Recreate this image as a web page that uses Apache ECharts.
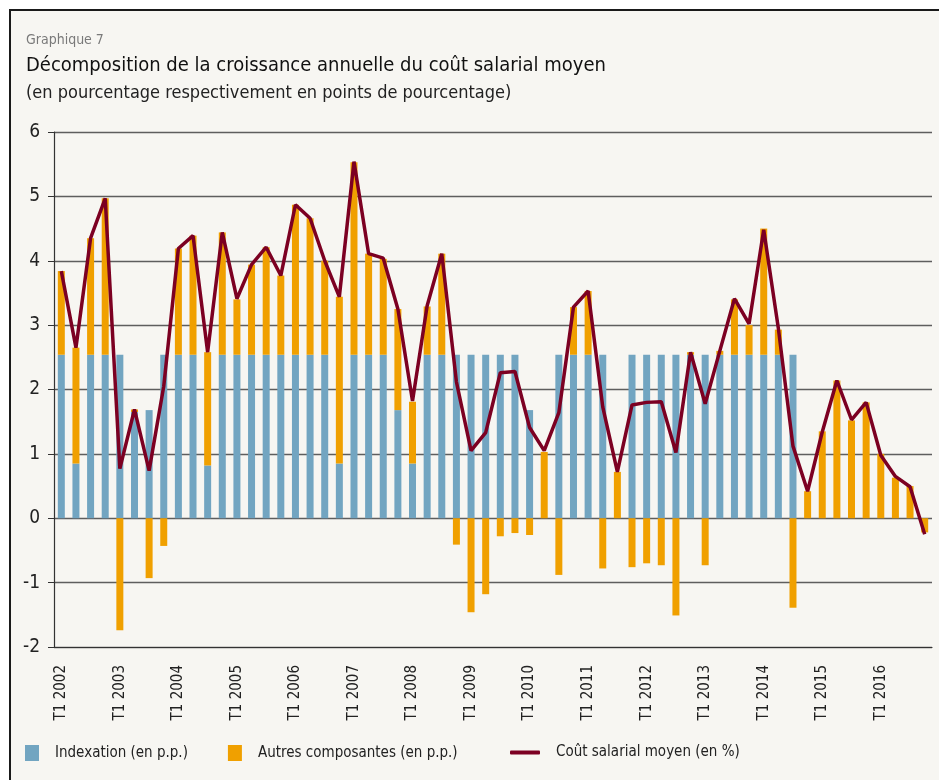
<!DOCTYPE html>
<html>
    <head>
        <meta charset="utf-8">
        <script src="https://cdn.jsdelivr.net/npm/echarts@6/dist/echarts.min.js"></script>
    </head>
    <body>
        <style>
            html, body {
                width: 100%;
                height: 100%;
                margin: 0;
                background: #ffffff;
                overflow: hidden;
            }
            #frame {
                position: absolute;
                left: 9px;
                top: 9px;
                width: 960px;
                height: 800px;
                border: 2px solid #1a1a1a;
                background: #f7f6f2;
            }
            #main {
                position: absolute;
                left: 0;
                top: 0;
                width: 939px;
                height: 780px;
            }
        </style>
        <div id="frame"></div>
        <div id="main"></div>
        <script>
            var years = [2002, 2003, 2004, 2005, 2006, 2007, 2008, 2009,
                2010, 2011, 2012, 2013, 2014, 2015, 2016];

            // indexation (en p.p.)
            var indexation = [
                2.54, 0.85, 2.54, 2.54,
                2.54, 1.65, 1.68, 2.54,
                2.54, 2.54, 0.82, 2.54,
                2.54, 2.54, 2.54, 2.54,
                2.54, 2.54, 2.54, 0.85,
                2.54, 2.54, 2.54, 1.68,
                0.85, 2.54, 2.54, 2.54,
                2.54, 2.54, 2.54, 2.54,
                1.68, 0, 2.54, 2.54,
                2.54, 2.54, 0, 2.54,
                2.54, 2.54, 2.54, 2.54,
                2.54, 2.54, 2.54, 2.54,
                2.54, 2.54, 2.54, 0,
                0, 0, 0, 0,
                0, 0, 0, 0
            ];

            // autres composantes (en p.p.)
            var autres = [
                1.30, 1.80, 1.81, 2.43,
                -1.74, 0.04, -0.93, -0.43,
                1.65, 1.85, 1.76, 1.90,
                0.86, 1.40, 1.67, 1.23,
                2.33, 2.12, 1.46, 2.59,
                2.99, 1.57, 1.49, 1.57,
                0.96, 0.75, 1.57, -0.41,
                -1.46, -1.18, -0.28, -0.23,
                -0.26, 1.03, -0.88, 0.74,
                0.99, -0.78, 0.72, -0.76,
                -0.70, -0.73, -1.51, 0.04,
                -0.73, 0.06, 0.86, 0.46,
                1.96, 0.39, -1.39, 0.42,
                1.35, 2.14, 1.52, 1.80,
                1.00, 0.63, 0.50, -0.22
            ];

            // coût salarial moyen (en %)
            var coutSalarial = [
                3.84, 2.65, 4.35, 4.97,
                0.77, 1.69, 0.74, 2.05,
                4.19, 4.39, 2.58, 4.44,
                3.41, 3.94, 4.21, 3.77,
                4.87, 4.66, 4.00, 3.44,
                5.54, 4.11, 4.04, 3.25,
                1.82, 3.30, 4.11, 2.12,
                1.05, 1.33, 2.26, 2.28,
                1.41, 1.05, 1.64, 3.28,
                3.53, 1.73, 0.72, 1.76,
                1.80, 1.81, 1.02, 2.58,
                1.78, 2.60, 3.41, 3.02,
                4.48, 2.95, 1.12, 0.42,
                1.34, 2.14, 1.53, 1.80,
                0.98, 0.65, 0.49, -0.25
            ];

            var quarters = [];
            years.forEach(function (y) {
                for (var q = 1; q <= 4; q++) {
                    quarters.push('T' + q + ' ' + y);
                }
            });

            var font = '"Liberation Sans Narrow", "DejaVu Sans Condensed", Roboto, sans-serif';

            var chart = echarts.init(document.getElementById('main'));

            chart.setOption({
                backgroundColor: 'transparent',
                textStyle: {
                    fontFamily: font
                },
                title: [
                    {
                        text: 'Graphique 7',
                        left: 21,
                        top: 28,
                        textStyle: {fontSize: 14, fontWeight: 'normal', color: '#7a7a7a', fontFamily: font}
                    },
                    {
                        text: 'Décomposition de la croissance annuelle du coût salarial moyen',
                        left: 21,
                        top: 51,
                        textStyle: {fontSize: 20, fontWeight: 'normal', color: '#111', fontFamily: font}
                    },
                    {
                        text: '(en pourcentage respectivement en points de pourcentage)',
                        left: 21,
                        top: 79,
                        textStyle: {fontSize: 18, fontWeight: 'normal', color: '#222', fontFamily: font}
                    }
                ],
                legend: [
                    {
                        left: 20,
                        top: 740,
                        itemWidth: 14,
                        itemHeight: 16,
                        itemGap: 40,
                        icon: 'rect',
                        textStyle: {fontSize: 15, color: '#222', padding: [0, 0, 0, 11]},
                        data: ['Indexation (en p.p.)', 'Autres composantes (en p.p.)']
                    },
                    {
                        left: 505,
                        top: 740,
                        itemWidth: 30,
                        itemHeight: 4,
                        icon: 'roundRect',
                        textStyle: {fontSize: 15, color: '#222', padding: [0, 0, 0, 11]},
                        data: ['Coût salarial moyen (en %)']
                    }
                ],
                grid: {
                    left: 54,
                    right: 7,
                    top: 132,
                    bottom: 133
                },
                xAxis: {
                    type: 'category',
                    data: quarters,
                    axisLine: {
                        onZero: false,
                        lineStyle: {color: '#333', width: 1.2}
                    },
                    axisTick: {
                        interval: 0,
                        length: 5,
                        lineStyle: {color: '#333'}
                    },
                    axisLabel: {
                        interval: function (i) {
                            return i % 4 === 0;
                        },
                        rotate: 90,
                        margin: 18,
                        fontSize: 15,
                        color: '#222'
                    }
                },
                yAxis: {
                    type: 'value',
                    min: -2,
                    max: 6,
                    interval: 1,
                    axisLine: {
                        show: true,
                        lineStyle: {color: '#333', width: 1.2}
                    },
                    axisTick: {
                        show: true,
                        length: 6,
                        lineStyle: {color: '#333'}
                    },
                    axisLabel: {
                        margin: 14,
                        fontSize: 19,
                        color: '#222'
                    },
                    splitLine: {
                        lineStyle: {color: '#5e5e5e', width: 1.3}
                    }
                },
                series: [
                    {
                        name: 'Indexation (en p.p.)',
                        type: 'bar',
                        stack: 'total',
                        barWidth: 7,
                        itemStyle: {color: '#72a5c1'},
                        data: indexation
                    },
                    {
                        name: 'Autres composantes (en p.p.)',
                        type: 'bar',
                        stack: 'total',
                        barWidth: 7,
                        itemStyle: {color: '#f0a000'},
                        data: autres
                    },
                    {
                        name: 'Coût salarial moyen (en %)',
                        type: 'line',
                        symbol: 'none',
                        z: 5,
                        lineStyle: {color: '#7c0022', width: 3.5},
                        itemStyle: {color: '#7c0022'},
                        data: coutSalarial
                    }
                ]
            });
        </script>
    </body>
</html>
